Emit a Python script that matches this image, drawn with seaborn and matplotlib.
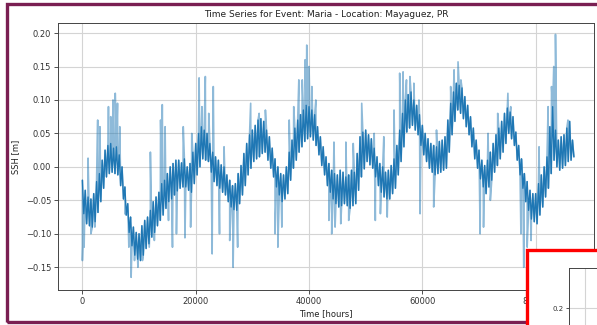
import numpy as np
import pandas as pd
import matplotlib
matplotlib.use("Agg")
import matplotlib.pyplot as plt
from matplotlib.patches import Rectangle
import seaborn as sns

# hourly record, read every 1000 h: two upper / lower readings of the dense trace per step
hours = np.arange(0, 87000, 1000)

upper_a = [-0.020, -0.045, -0.040, -0.010, 0.025, 0.035, 0.030, 0.000, -0.055, -0.090,
           -0.100, -0.080, -0.065, -0.045, -0.025, -0.010, 0.005, 0.010, 0.012, 0.005,
           0.035, 0.060, 0.050, 0.022, 0.010, 0.000, -0.020, -0.025, 0.002, 0.035,
           0.055, 0.070, 0.068, 0.045, 0.012, -0.010, 0.000, 0.040, 0.070, 0.085,
           0.090, 0.078, 0.045, 0.015, -0.005, -0.012, -0.008, -0.012, -0.008, 0.045,
           0.055, 0.042, 0.015, 0.000, -0.005, 0.012, 0.055, 0.100, 0.112, 0.092,
           0.062, 0.042, 0.032, 0.038, 0.045, 0.095, 0.125, 0.118, 0.092, 0.058,
           0.025, 0.002, 0.022, 0.048, 0.068, 0.088, 0.075, 0.032, -0.010, -0.035,
           -0.040, -0.012, 0.015, 0.090, 0.040, 0.048, 0.068]
lower_a = [-0.070, -0.088, -0.082, -0.052, -0.015, -0.008, -0.012, -0.048, -0.098, -0.132,
           -0.140, -0.122, -0.105, -0.088, -0.072, -0.052, -0.042, -0.032, -0.030, -0.038,
           -0.012, 0.012, 0.008, -0.022, -0.032, -0.042, -0.060, -0.065, -0.042, -0.012,
           0.008, 0.015, 0.022, -0.002, -0.030, -0.052, -0.040, -0.002, 0.022, 0.038,
           0.045, 0.032, 0.002, -0.028, -0.048, -0.060, -0.055, -0.062, -0.055, -0.015,
           0.008, -0.002, -0.028, -0.045, -0.048, -0.032, 0.008, 0.052, 0.062, 0.048,
           0.018, -0.002, -0.012, -0.008, -0.002, 0.048, 0.085, 0.072, 0.048, 0.012,
           -0.018, -0.040, -0.020, 0.002, 0.022, 0.050, 0.032, -0.012, -0.052, -0.078,
           -0.085, -0.060, -0.032, 0.010, -0.005, 0.002, 0.010]
upper_b = [-0.035, -0.048, -0.022, 0.010, 0.032, 0.028, 0.018, -0.030, -0.075, -0.098,
           -0.088, -0.075, -0.052, -0.038, -0.020, 0.000, 0.010, 0.006, 0.000, 0.022,
           0.050, 0.055, 0.035, 0.015, 0.003, -0.012, -0.028, -0.010, 0.020, 0.048,
           0.062, 0.072, 0.055, 0.028, 0.000, -0.012, 0.022, 0.058, 0.078, 0.092,
           0.085, 0.060, 0.030, 0.005, -0.010, -0.005, -0.015, -0.005, 0.020, 0.052,
           0.048, 0.028, 0.005, -0.008, 0.002, 0.032, 0.080, 0.108, 0.100, 0.078,
           0.050, 0.035, 0.030, 0.040, 0.070, 0.112, 0.122, 0.105, 0.075, 0.040,
           0.010, 0.010, 0.035, 0.058, 0.080, 0.082, 0.052, 0.012, -0.022, -0.040,
           -0.025, 0.000, 0.060, 0.055, 0.045, 0.058, 0.040]
lower_b = [-0.085, -0.090, -0.068, -0.032, -0.010, -0.010, -0.028, -0.072, -0.118, -0.138,
           -0.132, -0.115, -0.098, -0.080, -0.062, -0.048, -0.036, -0.030, -0.035, -0.025,
           0.000, 0.010, -0.008, -0.028, -0.038, -0.052, -0.064, -0.055, -0.028, -0.002,
           0.012, 0.020, 0.010, -0.015, -0.042, -0.048, -0.020, 0.010, 0.030, 0.042,
           0.040, 0.018, -0.012, -0.038, -0.055, -0.058, -0.058, -0.058, -0.035, -0.003,
           0.003, -0.015, -0.038, -0.048, -0.040, -0.012, 0.030, 0.058, 0.055, 0.032,
           0.008, -0.008, -0.010, -0.005, 0.022, 0.068, 0.080, 0.060, 0.030, -0.002,
           -0.030, -0.030, -0.008, 0.012, 0.035, 0.042, 0.010, -0.032, -0.065, -0.082,
           -0.072, -0.045, -0.010, 0.000, -0.002, 0.008, 0.015]

# raw (unfiltered) spikes sticking out of the trace
spike_hours = [0, 300, 1000, 1500, 2200, 2700, 3100, 4600, 5000, 5400,
               5800, 6200, 6600, 7500, 8200, 8600, 9200, 9800, 10600, 11800,
               12000, 12700, 13800, 14100, 14600, 15200, 15900, 16600, 17800, 18100,
               19100, 19300, 20600, 21100, 21700, 22300, 22900, 23100, 24200, 25000,
               26000, 26600, 27400, 29700, 31200, 32300, 34000, 34500, 35200, 36500,
               37300, 38200, 38800, 39300, 39600, 40000, 40500, 41200, 43500, 44000,
               44400, 44600, 45600, 46500, 47000, 47800, 49300, 51500, 51700, 52600,
               53200, 53800, 55000, 56000, 56600, 57200, 57800, 58500, 59400, 59600,
               62000, 62500, 65000, 65600, 66300, 66800, 70200, 70800, 71600, 72000,
               73300, 75100, 75600, 77400, 77900, 78500, 79200, 80600, 82200, 82800,
               83200, 83500, 85700]
spike_ssh = [-0.140, -0.120, 0.013, -0.100, -0.090, 0.070, 0.060, 0.090, 0.075, 0.100,
             0.110, 0.095, 0.060, -0.070, -0.120, -0.165, -0.140, -0.150, -0.140, -0.120,
             0.022, -0.110, 0.070, 0.093, 0.060, -0.080, -0.120, -0.100, 0.060, -0.106,
             -0.090, 0.050, 0.133, 0.090, 0.135, 0.080, -0.130, 0.120, -0.100, 0.030,
             -0.110, -0.150, -0.120, 0.095, 0.080, 0.085, -0.100, -0.120, -0.090, 0.070,
             0.090, 0.130, 0.130, 0.160, 0.182, 0.150, 0.120, 0.100, -0.080, -0.100,
             0.037, -0.090, -0.085, 0.037, -0.080, 0.035, 0.095, 0.050, -0.080, -0.070,
             0.045, -0.075, 0.085, 0.140, 0.142, 0.130, 0.135, 0.125, 0.100, -0.070,
             -0.060, 0.055, 0.120, 0.145, 0.157, 0.130, -0.100, -0.090, 0.050, -0.050,
             0.080, 0.110, 0.090, -0.100, -0.150, -0.120, -0.110, 0.030, 0.090, 0.120,
             0.150, 0.198, 0.070]

# four readings per step, 250 h apart
step_hours = np.column_stack([hours, hours + 250, hours + 500, hours + 750]).ravel()
step_ssh = np.column_stack([upper_a, lower_a, upper_b, lower_b]).ravel()
smooth = pd.DataFrame({"hours": step_hours, "ssh": step_ssh})
spikes = pd.DataFrame({"hours": spike_hours, "ssh": spike_ssh})
raw = pd.concat([smooth, spikes]).sort_values("hours", kind="stable")

sns.set_theme(style="ticks")
plt.rcParams["font.family"] = ["DejaVu Sans"]

fig = plt.figure(figsize=(5.97, 3.25), dpi=100)
ax = fig.add_axes([0.0972, 0.1077, 0.8978, 0.8215])

sns.lineplot(data=raw, x="hours", y="ssh", ax=ax, color="#1f77b4", alpha=0.5,
             lw=1.2, estimator=None, sort=False)
sns.lineplot(data=smooth, x="hours", y="ssh", ax=ax, color="#1f77b4",
             lw=1.0, estimator=None, sort=False)

ax.set_xlim(-4300, 90300)
ax.set_ylim(-0.184, 0.215)
ax.set_xticks([0, 20000, 40000, 60000, 80000])
ax.set_yticks([-0.15, -0.10, -0.05, 0.00, 0.05, 0.10, 0.15, 0.20])
ax.set_yticklabels(["\u22120.15", "\u22120.10", "\u22120.05", "0.00", "0.05", "0.10", "0.15", "0.20"])
ax.grid(True, color="#d4d4d4", lw=0.8)
ax.tick_params(labelsize=6, length=3, width=0.6, pad=2, colors="#333333")
for s in ax.spines.values():
    s.set_color("#444444")
    s.set_linewidth(0.7)
ax.set_title("Time Series for Event: Maria - Location: Mayaguez, PR", fontsize=6.5, pad=4, color="#222222")
ax.set_xlabel("Time [hours]", fontsize=6, labelpad=2, color="#222222")
ax.set_ylabel("SSH [m]", fontsize=6, labelpad=4, color="#222222")

# maroon frame around the screenshot
fig.patches.append(Rectangle((7 / 597, 1 - 322 / 325), 1.0, (322 - 4) / 325,
                             transform=fig.transFigure, fill=False,
                             edgecolor="#7a1f52", lw=2.4, zorder=5))

# red overlay box in the corner
fig.patches.append(Rectangle((527 / 597, -0.1), 0.2, 1 - 250 / 325 + 0.1,
                             transform=fig.transFigure, facecolor="white",
                             edgecolor="#ff0000", lw=2.4, zorder=6))
ins = fig.add_axes([569 / 597, 1 - 345 / 325, 0.12, 77 / 325], zorder=7)
ins.set_xlim(0, 1)
ins.set_ylim(0, 0.42)
ins.set_xticks([0.225])
ins.set_xticklabels([])
ins.set_yticks([0.2])
ins.set_yticklabels(["0.2"])
ins.grid(True, color="#d4d4d4", lw=0.8)
ins.tick_params(labelsize=5, length=2, width=0.6, pad=2, colors="#333333")
for s in ins.spines.values():
    s.set_color("#444444")
    s.set_linewidth(0.7)

fig.savefig("out.png", dpi=100)
